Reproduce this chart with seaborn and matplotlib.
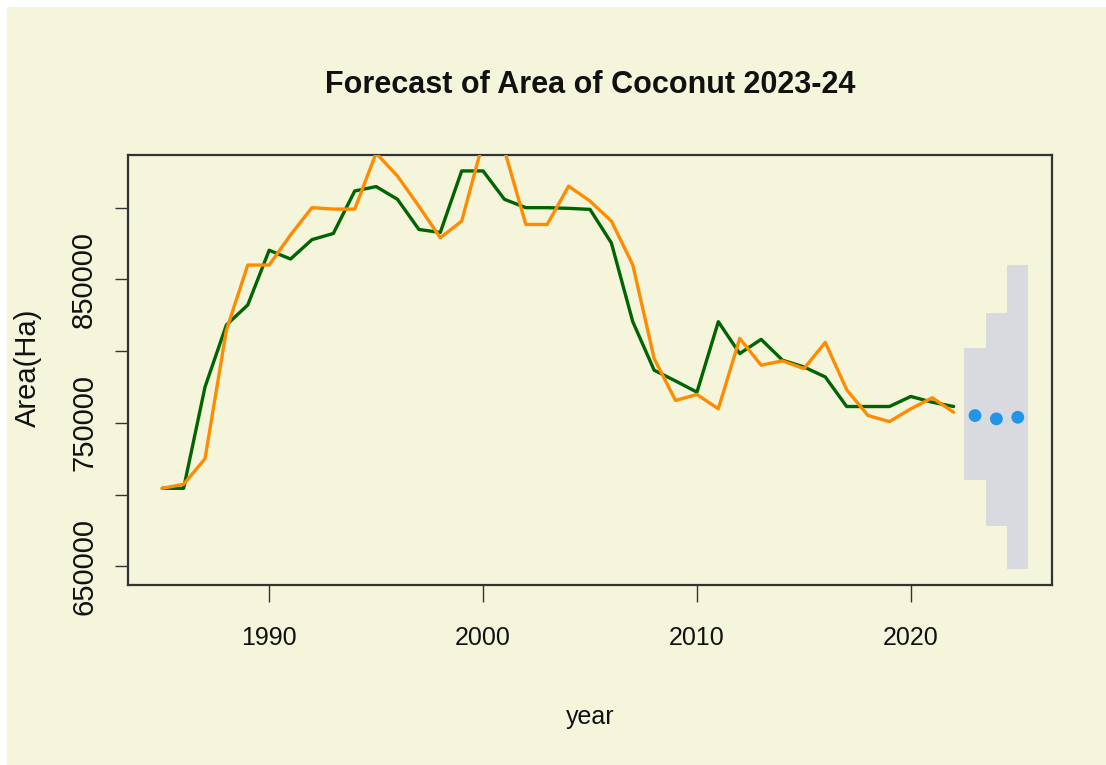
import matplotlib
matplotlib.use("Agg")
import matplotlib.pyplot as plt
import seaborn as sns
import pandas as pd
from matplotlib.patches import Rectangle

# Coconut area (hectares), observed series and fitted values
years = list(range(1985, 2023))
area_actual = [
    704400, 704400, 775000, 818200, 832200, 870300, 864200, 877700, 882000, 911600,
    914700, 905800, 884800, 882700, 925600, 925600, 905800, 900000, 900000, 899500,
    898800, 875400, 820500, 786700, 779200, 771400, 820500, 798300, 808200, 793700,
    789000, 782000, 761400, 761400, 761400, 768400, 764400, 761400,
]
area_fitted = [
    704400, 707200, 725000, 814700, 860000, 860000, 881000, 900000, 899000, 899000,
    938000, 922000, 901000, 879000, 890600, 945800, 940200, 888300, 888300, 915000,
    904600, 890600, 860200, 794800, 765600, 769800, 759800, 808900, 790200, 793200,
    787800, 806100, 773100, 755100, 750900, 759800, 767500, 757400,
]

# Forecast horizon with prediction interval
fc_years = [2023, 2024, 2025]
fc_mean = [755100, 752800, 753900]
fc_lower = [710100, 678000, 648100]
fc_upper = [801900, 826800, 860200]

x_ticks = [1990, 2000, 2010, 2020]
y_ticks = [650000, 700000, 750000, 800000, 850000, 900000]
y_tick_labels = ["650000", "", "750000", "", "850000", ""]

BG = "#F5F5DC"
W, H = 1106, 765

sns.set_style("white", rc={"axes.facecolor": BG, "figure.facecolor": "white"})
plt.rcParams["font.family"] = ["Liberation Sans", "DejaVu Sans"]

fig = plt.figure(figsize=(W / 100, H / 100), dpi=100)
fig.patches.append(Rectangle((7 / W, 0), 1, 1 - 7 / H, transform=fig.transFigure,
                             facecolor=BG, edgecolor="none", zorder=-10))
ax = fig.add_axes([128 / W, 1 - 585 / H, 924 / W, 430 / H])
ax.set_facecolor(BG)

# prediction interval shading, one block per forecast year
ax.bar(fc_years, [u - l for u, l in zip(fc_upper, fc_lower)], bottom=fc_lower,
       width=1.0, color="#D9D9E0", linewidth=0, zorder=1)

df = pd.DataFrame({"year": years, "actual": area_actual, "fitted": area_fitted})
sns.lineplot(data=df, x="year", y="actual", color="#006400", linewidth=2.4, ax=ax, zorder=3)
sns.lineplot(data=df, x="year", y="fitted", color="#FF8C00", linewidth=2.4, ax=ax, zorder=4)

fc = pd.DataFrame({"year": fc_years, "mean": fc_mean})
sns.scatterplot(data=fc, x="year", y="mean", color="#2196E8", s=85, edgecolor="none",
                ax=ax, zorder=5)

# R-style 4% padding around the data range
x_lo, x_hi = min(years), max(fc_years)
ax.set_xlim(x_lo - 0.04 * (x_hi - x_lo), x_hi + 0.04 * (x_hi - x_lo))
y_lo = min(area_actual + fc_lower)
y_hi = max(area_actual + fc_upper)
ax.set_ylim(y_lo - 0.04 * (y_hi - y_lo), y_hi + 0.04 * (y_hi - y_lo))

ax.set_xticks(x_ticks)
ax.set_xticklabels([str(t) for t in x_ticks])
ax.set_yticks(y_ticks)
ax.set_yticklabels(y_tick_labels)

for s in ax.spines.values():
    s.set_visible(True)
    s.set_color("#333333")
    s.set_linewidth(1.6)

ax.tick_params(axis="x", direction="out", length=12.5, width=1, color="#333333",
               pad=17, labelsize=18, labelcolor="#111111", bottom=True)
ax.tick_params(axis="y", direction="out", length=9.5, width=1, color="#333333",
               pad=12, labelsize=21, labelcolor="#111111", labelrotation=90, left=True)
for lab in ax.get_yticklabels():
    lab.set_va("center")

ax.set_xlabel("year", fontsize=18, color="#111111")
ax.xaxis.set_label_coords(0.5, (585 - 717) / 430)
ax.xaxis.label.set_va("center")
ax.set_ylabel("Area(Ha)", fontsize=21, color="#111111")
ax.yaxis.set_label_coords((28 - 128) / 924, (585 - 368) / 430)
ax.yaxis.label.set_va("center")

fig.text(590 / W, 1 - 85 / H, "Forecast of Area of Coconut 2023-24", ha="center",
         va="center", fontsize=22, fontweight="bold", color="#111111")

fig.savefig("out.png", dpi=100)
